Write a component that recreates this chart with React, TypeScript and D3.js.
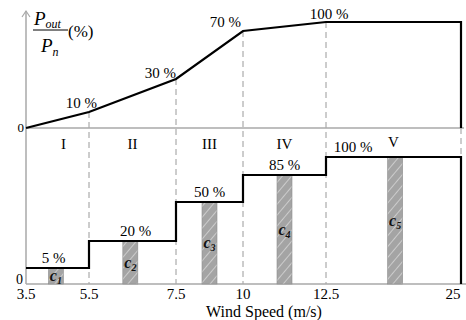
import * as d3 from "d3";

// wind speed breakpoints (axis is not uniform, each interval gets its own width)
const speedTicks = [3.5, 5.5, 7.5, 10, 12.5, 25];
const tickLabels = ["3.5", "5.5", "7.5", "10", "12.5", "25"];

// upper panel: output power curve
const curveSpeeds = [3.5, 5.5, 7.5, 10, 12.5, 25];
const curvePower = [0, 10, 30, 70, 100, 100];
const curveLabels = ["10 %", "30 %", "70 %", "100 %"];

// lower panel: step levels per region
const regions = ["I", "II", "III", "IV", "V"];
const stepLevels = [5, 20, 50, 85, 100];
const stepLabels = ["5 %", "20 %", "50 %", "85 %", "100 %"];

// cluster bars
const clusterSpeeds = [4.45, 6.45, 8.75, 11.25, 18.9];
const clusterNames = ["1", "2", "3", "4", "5"];

const W = 466;
const H = 320;
const FONT = "'Liberation Serif', 'Times New Roman', serif";

export default function App() {
  const x = d3.scaleLinear().domain(speedTicks).range([26, 89, 176, 243, 326, 461]);
  const yUp = d3.scaleLinear().domain([0, 10, 30, 70, 100]).range([128, 112, 79, 31, 22]);
  const yLow = d3.scaleLinear().domain([0, 5, 20, 50, 85, 100]).range([284, 268, 241, 202, 175, 157]);

  const upperLine = d3
    .line<number>()
    .x((_, i) => x(curveSpeeds[i]))
    .y((d) => yUp(d));
  const upperPath = upperLine(curvePower) + `L${x(25)},${yUp(0)}`;

  const stepPts: [number, number][] = stepLevels.map((v, i) => [speedTicks[i], v]);
  stepPts.push([25, 100]);
  const lowerLine = d3
    .line<[number, number]>()
    .x((d) => x(d[0]))
    .y((d) => yLow(d[1]))
    .curve(d3.curveStepAfter);
  const lowerPath = lowerLine(stepPts) + `L${x(25)},${yLow(0)}`;

  const barW = 15;
  const labelDx = [8, 0, -2, 3];
  const labelDy = [-4, -1, -4, -3];

  return (
    <div style={{ position: "absolute", left: 0, top: 0 }}>
      <svg width={W} height={H} style={{ display: "block", background: "#fff" }} fontFamily={FONT}>
        <defs>
          <pattern id="hatch" patternUnits="userSpaceOnUse" width="7" height="7" patternTransform="rotate(40)">
            <rect width="7" height="7" fill="#a4a4a4" />
            <line x1="0" y1="0" x2="0" y2="7" stroke="#d6d6d6" strokeWidth="1.6" />
          </pattern>
        </defs>

        {/* dashed region boundaries */}
        {speedTicks.slice(1, 5).map((s, i) => (
          <line
            key={s}
            x1={x(s)}
            x2={x(s)}
            y1={yUp(curvePower[i + 1])}
            y2={yLow(0)}
            stroke="#9a9a9a"
            strokeWidth={1}
            strokeDasharray="6,4"
          />
        ))}
        <line x1={x(25)} x2={x(25)} y1={yUp(0)} y2={yLow(100)} stroke="#9a9a9a" strokeDasharray="6,4" />

        {/* axes */}
        <line x1={x(3.5)} x2={x(3.5)} y1={11} y2={yLow(0)} stroke="#a8a8a8" strokeWidth={1.5} />
        <path d={`M${x(3.5) - 4},${17}L${x(3.5)},${11}L${x(3.5) + 4},${17}`} fill="none" stroke="#a8a8a8" strokeWidth={1.2} />
        <line x1={x(3.5)} x2={464} y1={yUp(0)} y2={yUp(0)} stroke="#a8a8a8" strokeWidth={1.5} />
        <line x1={x(3.5)} x2={466} y1={yLow(0)} y2={yLow(0)} stroke="#a8a8a8" strokeWidth={1.5} />

        {/* hatched cluster bars */}
        {clusterSpeeds.map((s, i) => (
          <g key={s}>
            <rect
              x={x(s) - barW / 2}
              y={yLow(stepLevels[i])}
              width={barW}
              height={yLow(0) - yLow(stepLevels[i])}
              fill="url(#hatch)"
              stroke="#8c8c8c"
              strokeWidth={0.6}
            />
            <text
              x={x(s)}
              y={(yLow(0) + yLow(stepLevels[i])) / 2 + 5}
              textAnchor="middle"
              fontSize={16}
              fontWeight="bold"
              fontStyle="italic"
              fill="#111"
            >
              c<tspan fontSize={10} dy={3}>{clusterNames[i]}</tspan>
            </text>
          </g>
        ))}

        {/* curves */}
        <path d={upperPath} fill="none" stroke="#000" strokeWidth={2.2} strokeLinejoin="miter" />
        <path d={lowerPath} fill="none" stroke="#000" strokeWidth={2.2} strokeLinejoin="miter" />

        {/* upper labels */}
        {curveLabels.map((t, i) => (
          <text
            key={t}
            x={x(curveSpeeds[i + 1]) + labelDx[i]}
            y={yUp(curvePower[i + 1]) + labelDy[i]}
            textAnchor={i === 3 ? "middle" : "end"}
            fontSize={15}
          >
            {t}
          </text>
        ))}

        {/* lower labels */}
        {stepLabels.map((t, i) => (
          <text
            key={t}
            x={i === 4 ? x(12.5) + 27 : (x(speedTicks[i]) + x(speedTicks[i + 1])) / 2 - (i === 0 ? 4 : 0) + (i === 1 ? 3 : 0)}
            y={yLow(stepLevels[i]) - 5}
            textAnchor="middle"
            fontSize={15}
          >
            {t}
          </text>
        ))}
        {regions.map((r, i) => (
          <text
            key={r}
            x={(x(speedTicks[i]) + x(speedTicks[i + 1])) / 2 + (i === 0 ? 6 : 0)}
            y={i === 4 ? 147 : 149}
            textAnchor="middle"
            fontSize={15}
          >
            {r}
          </text>
        ))}

        {/* zero labels */}
        <text x={24} y={yUp(0) + 4} textAnchor="end" fontSize={13}>0</text>
        <text x={23} y={yLow(0)} textAnchor="end" fontSize={14}>0</text>

        {/* x tick labels */}
        {speedTicks.map((s, i) => (
          <text
            key={s}
            x={i === 5 ? x(s) - 8 : x(s)}
            y={299}
            textAnchor="middle"
            fontSize={15}
          >
            {tickLabels[i]}
          </text>
        ))}
        <text x={264} y={317} textAnchor="middle" fontSize={16}>Wind Speed (m/s)</text>

        {/* y label: Pout / Pn (%) */}
        <text x={34} y={25} fontSize={19} fontStyle="italic">
          P<tspan fontSize={12} dy={3}>out</tspan>
        </text>
        <line x1={33} x2={68} y1={30} y2={30} stroke="#000" strokeWidth={1} />
        <text x={41} y={52} fontSize={19} fontStyle="italic">
          P<tspan fontSize={12} dy={4}>n</tspan>
        </text>
        <text x={68} y={37} fontSize={17}>(%)</text>
      </svg>
    </div>
  );
}
